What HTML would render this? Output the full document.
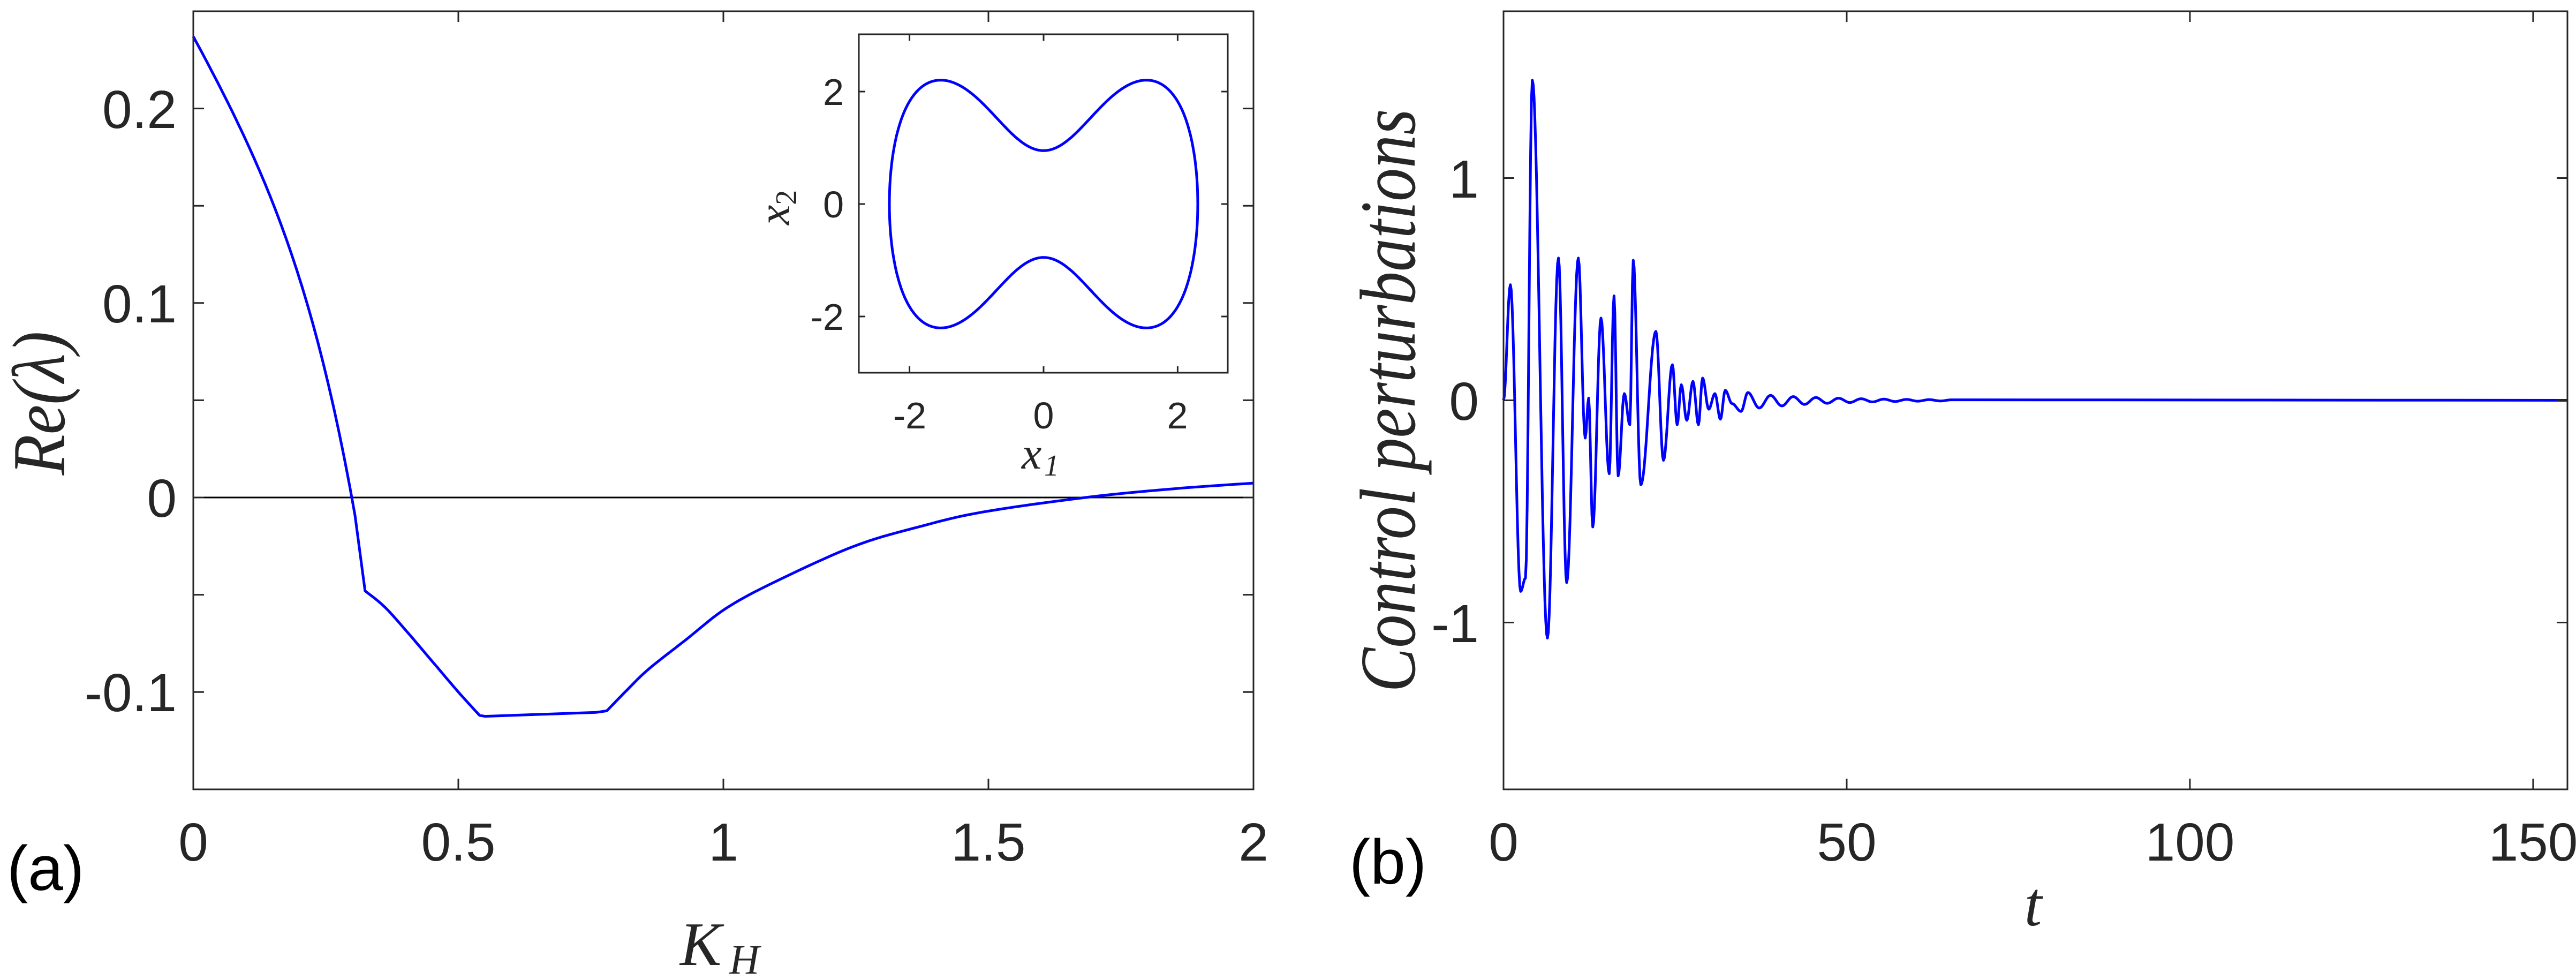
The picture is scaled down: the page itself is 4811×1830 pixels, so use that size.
<!DOCTYPE html>
<html><head><meta charset="utf-8"><style>
html,body{margin:0;padding:0;background:#fff;}
svg{display:block;}
.tk{font-family:"Liberation Sans",sans-serif;font-size:100px;fill:#262626;}
.tki{font-family:"Liberation Sans",sans-serif;font-size:70px;fill:#262626;}
.lab{font-family:"Liberation Serif",serif;font-style:italic;fill:#262626;}
</style></head><body>
<svg id="s" width="4811" height="1830" viewBox="0 0 4811 1830" xmlns="http://www.w3.org/2000/svg">
<rect width="4811" height="1830" fill="#fff"/>
<g id="g"></g>
<g class="tk" text-anchor="end">
<text x="330" y="965">0</text>
<text x="330" y="602">0.1</text>
<text x="330" y="239">0.2</text>
<text x="330" y="1328">-0.1</text>
</g>
<g class="tk" text-anchor="middle">
<text x="361" y="1607">0</text>
<text x="856" y="1607">0.5</text>
<text x="1351" y="1607">1</text>
<text x="1846" y="1607">1.5</text>
<text x="2341" y="1607">2</text>
</g>
<text x="13" y="1662" font-family="Liberation Sans,sans-serif" font-size="118" fill="#000">(a)</text>
<text x="1270" y="1802" class="lab" font-size="116">K</text>
<text x="1362" y="1818" class="lab" font-size="78">H</text>
<text transform="translate(120,753) rotate(-90)" class="lab" font-size="140" text-anchor="middle" textLength="269" lengthAdjust="spacingAndGlyphs">Re(λ)</text>
<g class="tki" text-anchor="middle">
<text x="1699" y="800">-2</text>
<text x="1949" y="800">0</text>
<text x="2199" y="800">2</text>
</g>
<g class="tki" text-anchor="end">
<text x="1576" y="196">2</text>
<text x="1576" y="406">0</text>
<text x="1576" y="616">-2</text>
</g>
<text x="1908" y="875" class="lab" font-size="84">x</text>
<text x="1950" y="888" class="lab" font-size="56" font-style="normal">1</text>
<text transform="translate(1474,420) rotate(-90)" class="lab" font-size="84">x<tspan font-size="56" font-style="normal" dy="13">2</tspan></text>
<g class="tk" text-anchor="end">
<text x="2762" y="369">1</text>
<text x="2762" y="784">0</text>
<text x="2762" y="1199">-1</text>
</g>
<g class="tk" text-anchor="middle">
<text x="2808" y="1607">0</text>
<text x="3449" y="1607">50</text>
<text x="4090" y="1607">100</text>
<text x="4731" y="1607">150</text>
</g>
<text x="2520" y="1650" font-family="Liberation Sans,sans-serif" font-size="118" fill="#000">(b)</text>
<text x="3797" y="1728" class="lab" font-size="118" text-anchor="middle">t</text>
<text transform="translate(2642,748) rotate(-90)" class="lab" font-size="148" text-anchor="middle" textLength="1089" lengthAdjust="spacingAndGlyphs">Control perturbations</text>
</svg>
<script>
(function(){
var g=document.getElementById('g'),NS='http://www.w3.org/2000/svg';
function el(n,a){var e=document.createElementNS(NS,n);for(var k in a)e.setAttribute(k,a[k]);g.appendChild(e);return e;}
var ax='#262626';
var L=361,R=2341,T=21,B=1474;
function LX(k){return L+k*990;} function LY(v){return 929-v*3632;}
el('line',{x1:L,y1:LY(0),x2:R,y2:LY(0),stroke:'#000','stroke-width':3});
function cr(P,step){var out=[];for(var i=0;i<P.length-1;i++){var p0=P[Math.max(0,i-1)],p1=P[i],p2=P[i+1],p3=P[Math.min(P.length-1,i+2)];
 for(var j=0;j<step;j++){var t=j/step,t2=t*t,t3=t2*t;var f=function(a,b,c,d){return 0.5*((2*b)+(-a+c)*t+(2*a-5*b+4*c-d)*t2+(-a+3*b-3*c+d)*t3);};
 out.push([f(p0[0],p1[0],p2[0],p3[0]),f(p0[1],p1[1],p2[1],p3[1])]);}}out.push(P[P.length-1]);return out;}
var pts=[];
for(var x=0;x<=0.31;x+=0.005){pts.push([x,0.237-0.5*x-0.3*x*x-7.6*x*x*x*x]);}
pts.push([0.324,-0.048]);
cr([[0.324,-0.048],[0.36,-0.056],[0.40,-0.068],[0.45,-0.084],[0.50,-0.100],[0.54,-0.112]],10).forEach(function(p){pts.push(p);});
pts.push([0.55,-0.1125]);pts.push([0.76,-0.1105]);
cr([[0.78,-0.1097],[0.82,-0.0985],[0.86,-0.088],[0.93,-0.073],[1.005,-0.057],[1.1,-0.043],[1.247,-0.025],[1.37,-0.015],[1.489,-0.0075],[1.683,0.0],[1.85,0.0045],[2.0,0.0074]],10).forEach(function(p){pts.push(p);});
var d='';pts.forEach(function(p,i){d+=(i?'L':'M')+LX(p[0]).toFixed(1)+','+LY(p[1]).toFixed(1);});
el('path',{d:d,fill:'none',stroke:'#0000ff','stroke-width':5,'stroke-linejoin':'round'});
function frame(l,r,t,b,xt,yt,len,w){
  el('rect',{x:l,y:t,width:r-l,height:b-t,fill:'none',stroke:ax,'stroke-width':w});
  xt.forEach(function(x){el('line',{x1:x,y1:b,x2:x,y2:b-len,stroke:ax,'stroke-width':w});el('line',{x1:x,y1:t,x2:x,y2:t+len,stroke:ax,'stroke-width':w});});
  yt.forEach(function(y){el('line',{x1:l,y1:y,x2:l+len,y2:y,stroke:ax,'stroke-width':w});el('line',{x1:r,y1:y,x2:r-len,y2:y,stroke:ax,'stroke-width':w});});
}
var xt=[],yt=[];for(var k=0;k<=2;k+=0.5)xt.push(LX(k));for(var v=-0.1;v<=0.21;v+=0.05)yt.push(LY(v));
frame(L,R,T,B,xt,yt,20,3);
var IL=1604,IR=2293,IT=64,IB=696;
el('rect',{x:IL,y:IT,width:IR-IL,height:IB-IT,fill:'#fff',stroke:'none'});
function IX(x){return 1949+x*125.2;} function IY(y){return 381-y*105;}
function up(x){var a=Math.abs(x);var gg=0.95+1.5*(1-Math.exp(-a*a));var h=Math.sqrt(Math.max(0,1-Math.pow(a/2.3,6)));return gg*h;}
var d2='',N=300;
for(var i=0;i<=N;i++){var th=Math.PI*i/N;var x=-2.3*Math.cos(th);d2+=(i?'L':'M')+IX(x).toFixed(1)+','+IY(up(x)).toFixed(1);}
for(var i=0;i<=N;i++){var th=Math.PI*i/N;var x=2.3*Math.cos(th);d2+='L'+IX(x).toFixed(1)+','+IY(-up(x)).toFixed(1);}
el('path',{d:d2+'Z',fill:'none',stroke:'#0000ff','stroke-width':5,'stroke-linejoin':'round'});
frame(IL,IR,IT,IB,[IX(-2),IX(0),IX(2)],[IY(2),IY(0),IY(-2)],12,3);
var RL=2808,RR=4795;
function RX(t){return RL+t*(RR-RL)/155;} function RY(u){return 747.5-u*415;}
var ex=[[0,0],[1.0,0.52],[2.5,-0.86],[3.2,-0.80],[4.2,1.44],[6.4,-1.07],[8.0,0.64],[9.2,-0.82],[10.9,0.64],[11.9,-0.17],[12.4,0.01],[13.0,-0.57],[14.2,0.37],[15.4,-0.33],[16.1,0.47],[16.7,-0.34],[17.6,0.03],[18.4,-0.11],[18.9,0.63],[20.0,-0.38],[22.2,0.31],[23.3,-0.27],[24.6,0.16],[25.3,-0.11],[25.9,0.07],[26.7,-0.09],[27.6,0.085],[28.4,-0.11],[29.0,0.10],[29.9,-0.04],[30.8,0.03],[31.6,-0.085],[32.3,0.045],[33.3,-0.015],[34.6,-0.05],[35.6,0.035]];
var a0=0.035,s=-1;
for(var tt=35.6+1.65;tt<66;tt+=1.65){a0*=0.86;ex.push([tt,s*a0-0.006*Math.exp(-(tt-35)/8)]);s=-s;}
ex.push([155,0]);
var d3='M'+RX(0)+','+RY(0);
for(var i=1;i<ex.length;i++){var p=ex[i-1],q=ex[i];var n=Math.max(2,Math.ceil((q[0]-p[0])*8));if(q[0]-p[0]>20)n=2;
 for(var j=1;j<=n;j++){var f=j/n;var c=(1-Math.cos(Math.PI*f))/2;var t=p[0]+(q[0]-p[0])*f;var u=p[1]+(q[1]-p[1])*c;d3+='L'+RX(t).toFixed(1)+','+RY(u).toFixed(1);}}
el('path',{d:d3,fill:'none',stroke:'#0000ff','stroke-width':5,'stroke-linejoin':'round'});
frame(RL,RR,T,B,[RX(0),RX(50),RX(100),RX(150)],[RY(1),RY(0),RY(-1)],20,3);
})();
</script>
</body></html>
